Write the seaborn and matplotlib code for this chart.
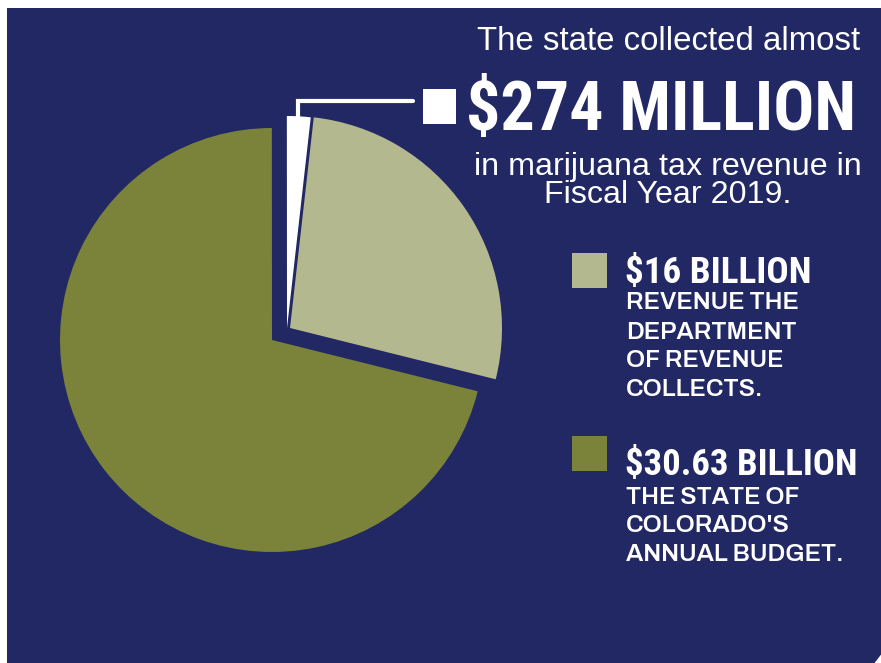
import matplotlib
matplotlib.use("Agg")
import matplotlib.pyplot as plt
import seaborn as sns
from matplotlib import font_manager as fm
from matplotlib.patches import Rectangle, Polygon
from matplotlib.lines import Line2D

sns.set_theme(style="white")

# ---------------- data ----------------
NAVY = "#212863"
OLIVE = "#7a8339"
KHAKI = "#b4b88e"
WHITE = "#ffffff"

slice_names = ["Department of Revenue collections", "Marijuana tax revenue FY2019", "Colorado annual budget"]
slice_share_pct = [27.1, 1.8, 71.1]          # wedge sizes as drawn in the graphic
slice_colors = [KHAKI, WHITE, OLIVE]

headline_intro = "The state collected almost"
headline_amount = "$274 MILLION"
headline_tail = ["in marijuana tax revenue in", "Fiscal Year 2019."]

legend_amounts = ["$16 BILLION", "$30.63 BILLION"]
legend_notes = [["REVENUE THE", "DEPARTMENT", "OF REVENUE", "COLLECTS."],
                ["THE STATE OF", "COLORADO'S", "ANNUAL BUDGET."]]
legend_colors = [KHAKI, OLIVE]

# ---------------- fonts ----------------
def pick(*names):
    for name in names:
        try:
            fm.findfont(fm.FontProperties(family=name), fallback_to_default=False)
            return name
        except Exception:
            pass
    return "DejaVu Sans"

NARROW = pick("Roboto Condensed", "PT Sans Narrow", "Liberation Sans")
SANS = pick("Liberation Sans", "Arimo", "DejaVu Sans")
WIDE = pick("Archivo", "Liberation Sans")

# ---------------- figure ----------------
W, H = 881, 663
fig = plt.figure(figsize=(W / 100, H / 100), dpi=100)
fig.patch.set_facecolor("white")
ax = fig.add_axes([0, 0, 1, 1])

def Y(y):
    return H - y

# navy panel
panel = Polygon([(7, Y(8)), (W + 2, Y(8)), (W + 2, Y(652)), (W - 8, Y(H + 2)), (7, Y(H + 2))],
                closed=True, facecolor=NAVY, edgecolor="none", zorder=0)
ax.add_patch(panel)

# pie
R = 212
wedges, _ = ax.pie(slice_share_pct, colors=slice_colors, startangle=-14, counterclock=True,
                   radius=R, center=(272, Y(340)), wedgeprops=dict(linewidth=0))
for w in wedges:
    w.set_zorder(2)
wedges[0].set_center((290, Y(328)))
wedges[1].set_center((287, Y(328)))

ax.set_xlim(0, W)
ax.set_ylim(0, H)
ax.set_aspect("equal")
ax.axis("off")

# leader line + white key square
ax.add_line(Line2D([298, 298, 413], [Y(118), Y(101), Y(101)], color=WHITE, lw=3.0,
                   solid_joinstyle="miter", zorder=3))
ax.add_patch(Rectangle((423, Y(124)), 33, 35, facecolor=WHITE, edgecolor="none", zorder=3))

renderer = fig.canvas.get_renderer()

def fitted_size(s, family, weight, width_px):
    t = ax.text(0, 0, s, fontsize=20, family=family, fontweight=weight)
    w = t.get_window_extent(renderer=renderer).width
    t.remove()
    return 20 * width_px / w

def put(x, y, s, family, weight, size, ha="left"):
    ax.text(x, Y(y), s, fontsize=size, family=family, fontweight=weight, color=WHITE,
            ha=ha, va="baseline", zorder=4)

# headline block
sz = fitted_size(headline_intro, SANS, "normal", 382)
put(860, 50, headline_intro, SANS, "normal", sz, ha="right")
sz = fitted_size(headline_amount, NARROW, "bold", 391)
put(466, 130, headline_amount, NARROW, "bold", sz)
sz = fitted_size(headline_tail[0], SANS, "normal", 387)
put(668, 175, headline_tail[0], SANS, "normal", sz, ha="center")
put(668, 203, headline_tail[1], SANS, "normal", sz, ha="center")

# legend blocks
sq_tops = [253, 436]
amount_base = [283, 475]
note_base = [[309, 339, 367, 396], [504, 532, 561]]
amount_w = [187, 233]
for i in range(2):
    ax.add_patch(Rectangle((572, Y(sq_tops[i] + 35)), 35, 35, facecolor=legend_colors[i],
                           edgecolor="none", zorder=3))
    sz = fitted_size(legend_amounts[i], NARROW, "bold", amount_w[i])
    put(625, amount_base[i], legend_amounts[i], NARROW, "bold", sz)
nsz = fitted_size(legend_notes[1][2], WIDE, "bold", 218)
for i in range(2):
    for line, yb in zip(legend_notes[i], note_base[i]):
        put(626, yb, line, WIDE, "bold", nsz)

fig.savefig("out.png", dpi=100, facecolor="white")
